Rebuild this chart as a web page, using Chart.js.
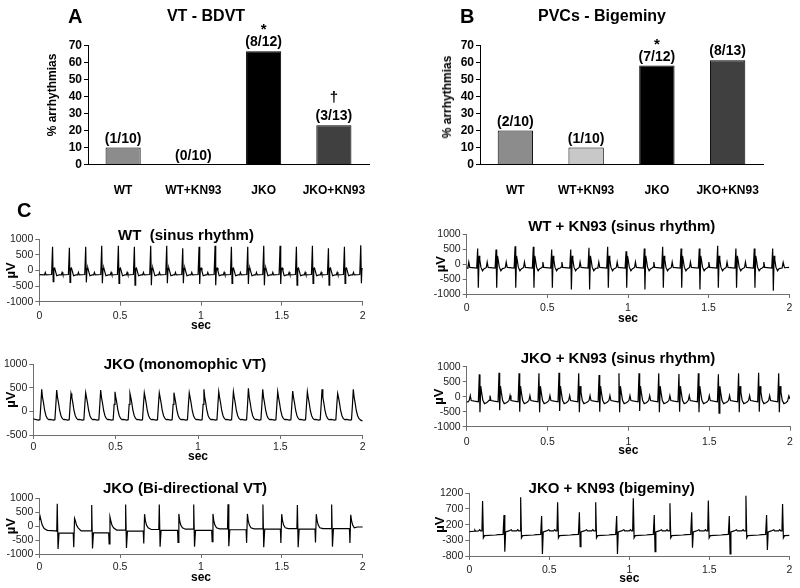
<!DOCTYPE html>
<html>
<head>
<meta charset="utf-8">
<script src="https://cdn.jsdelivr.net/npm/chart.js@4.4.0/dist/chart.umd.min.js"></script>
<style>
body { margin: 0; background: #fff; }
#wrap { position: relative; width: 800px; height: 588px; overflow: hidden; font-family: "Liberation Sans", Arial, sans-serif; }
#wrap canvas { position: absolute; left: 0; top: 0; }
.txt { position: absolute; white-space: pre; font-weight: bold; line-height: 1; color: #000; transform: translateX(-50%); }
</style>
</head>
<body>
<div id="wrap"></div>
<script>
// bar panels
const groups = ['WT', 'WT+KN93', 'JKO', 'JKO+KN93'];
const pctTicks = [0, 10, 20, 30, 40, 50, 60, 70];
const vtPct = [10, 0, 66.7, 23.1];
const vtCounts = ['(1/10)', '(0/10)', '(8/12)', '(3/13)'];
const vtMarks = ['', '', '*', '\u2020'];
const pvcPct = [20, 10, 58.3, 61.5];
const pvcCounts = ['(2/10)', '(1/10)', '(7/12)', '(8/13)'];
const pvcMarks = ['', '', '*', ''];
const barColors = ['#8c8c8c', '#c8c8c8', '#000000', '#404040'];

// ECG axes
const secTicks = [0, 0.5, 1, 1.5, 2];
const uvTicks = [-1000, -500, 0, 500, 1000];
const uvTicksMono = [-500, 0, 500, 1000];
const uvTicksBig = [-800, -300, 200, 700, 1200];

// WT sinus rhythm: R peak times (s), R and S amplitudes (µV), one complex shape
const wtBeatT = [0.082, 0.186, 0.287, 0.386, 0.489, 0.588, 0.689, 0.788, 0.887, 0.988, 1.087, 1.188, 1.289, 1.388, 1.489, 1.590, 1.689, 1.788, 1.887, 1.988];
const wtR = [760, 730, 760, 790, 790, 760, 790, 790, 710, 760, 790, 760, 760, 790, 790, 760, 790, 710, 760, 810];
const wtS = [-360, -380, -380, -410, -410, -470, -470, -410, -410, -430, -470, -410, -430, -470, -430, -470, -410, -470, -410, -410];
const wtShape = [[-0.05, -140], [-0.045, -60], [-0.04, -140], [-0.006, -130], [0, 'R'], [0.004, 'S'], [0.008, 60], [0.013, 80], [0.018, -20], [0.026, -170], [0.04, -140]];
const wtLead = [[0, -130]];

// JKO monomorphic VT
const monoT = [0.051, 0.142, 0.229, 0.318, 0.409, 0.496, 0.587, 0.674, 0.765, 0.854, 0.947, 1.036, 1.126, 1.215, 1.306, 1.393, 1.484, 1.575, 1.664, 1.753, 1.848, 1.943];
const monoPeak = [468, 454, 383, 397, 454, 418, 383, 397, 397, 397, 397, 468, 418, 418, 489, 468, 418, 432, 418, 468, 383, 468];
const monoShape = [[-0.04, -170], [-0.02, -185], [-0.011, -175], [-0.005, 150], [0, 'P'], [0.005, 300], [0.011, 180], [0.018, 20], [0.026, -90], [0.034, -150], [0.042, -175]];
const monoLead = [[0, -150], [0.005, -160]];
const monoTail = [[1.99, -190], [2, -200]];

// JKO bi-directional VT: tall (up-down) and short (down-up) complexes
const biTallT = [0.111, 0.324, 0.534, 0.742, 0.955, 1.167, 1.383, 1.596, 1.808];
const biTallR = [800, 760, 780, 780, 780, 790, 780, 760, 780];
const biTallS = [-820, -800, -780, -740, -740, -720, -760, -760, -740];
const biLevel = [-250, -240, -180, -150, -150, -130, -110, -110, -90];
const biBefore = [-180, -170, -140, -120, -110, -100, -100, -90, -90];
const biTallShape = [[-0.003, 'B'], [0, 'R'], [0.005, 'S'], [0.011, 'L'], [0.095, 'L']];
const biShortT = [0.214, 0.433, 0.647, 0.859, 1.070, 1.283, 1.495, 1.709, 1.922];
const biShortD = [-760, -640, -620, -580, -560, -600, -600, -590, -600];
const biShortU = [280, 330, 430, 440, 440, 440, 430, 430, 410];
const biShortE = [-170, -140, -120, -110, -100, -100, -90, -90, -30];
const biShortShape = [[-0.004, 'L'], [-0.001, 'D'], [0.004, 'U'], [0.009, 200], [0.016, 40], [0.026, -60], [0.045, 'E'], [0.08, 'E']];
const biLead = [[0, 220], [0.005, 350], [0.011, 200], [0.018, 40], [0.03, -90], [0.05, -150], [0.1, -170]];

// WT + KN93 sinus rhythm
const wkBeatT = [0.068, 0.182, 0.300, 0.413, 0.527, 0.645, 0.758, 0.874, 0.988, 1.101, 1.215, 1.329, 1.442, 1.556, 1.669, 1.783, 1.897];
const wkR = [525, 490, 600, 580, 490, 490, 550, 580, 435, 525, 580, 525, 525, 615, 525, 525, 525];
const wkS = [-790, -790, -790, -790, -790, -850, -850, -790, -790, -850, -790, -790, -850, -790, -790, -790, -890];
const wkShape = [[-0.065, -130], [-0.06, -100], [-0.055, 70], [-0.049, -110], [-0.006, -130], [0, 'R'], [0.004, 'S'], [0.009, 280], [0.013, 150], [0.02, -100], [0.03, -220], [0.04, -150]];
const wkLead = [[0, -130]];
const wkTail = [[1.955, -130], [1.962, 60], [1.97, -120], [2, -110]];

// JKO + KN93 sinus rhythm
const jkBeatT = [0.078, 0.200, 0.324, 0.447, 0.571, 0.693, 0.819, 0.942, 1.066, 1.188, 1.313, 1.433, 1.557, 1.682, 1.806, 1.930];
const jkR = [744, 800, 778, 778, 800, 778, 722, 778, 778, 778, 756, 778, 744, 778, 800, 778];
const jkS = [-520, -450, -500, -520, -480, -520, -500, -520, -480, -520, -500, -520, -550, -520, -500, -520];
const jkShape = [[-0.07, -170], [-0.062, -120], [-0.056, 40], [-0.05, -130], [-0.03, -150], [-0.006, -170], [0, 'R'], [0.004, 'S'], [0.009, 350], [0.014, 150], [0.022, -120], [0.032, -230], [0.045, -200]];
const jkLead = [[0, -170]];
const jkTail = [[1.985, -150], [1.993, 30], [2, -80]];

// JKO + KN93 bigeminy: narrow beats and biphasic PVCs
const bigNT = [0.083, 0.321, 0.552, 0.790, 1.025, 1.254, 1.494, 1.729, 1.958];
const bigNR = [955, 1072, 913, 913, 1040, 881, 966, 1125, 860];
const bigNShape = [[-0.025, 0], [-0.018, 40], [-0.012, 0], [-0.004, 0], [0, 'R'], [0.005, -220], [0.012, -150], [0.08, -130], [0.1, -120]];
const bigVT = [0.217, 0.452, 0.688, 0.921, 1.156, 1.390, 1.625, 1.858];
const bigVU = [508, 476, 594, 476, 508, 594, 476, 508];
const bigVD = [-662, -736, -502, -736, -662, -534, -736, -609];
const bigVShape = [[-0.006, -110], [0, 'U'], [0.005, 'D'], [0.01, -30], [0.03, 0], [0.045, 40], [0.05, 0], [0.06, 0]];
const bigLead = [[0, -20], [0.03, -10], [0.035, 30], [0.04, -10]];

Chart.defaults.font.family = '"Liberation Sans", Arial, sans-serif';
const wrap = document.getElementById('wrap');
const axisGray = '#6e6e6e';

function pts(list) {
  return list.map(([x, y]) => ({x, y}));
}

function beats(times, shape, vals) {
  const out = [];
  times.forEach((t, i) => {
    shape.forEach(([dt, v]) => {
      out.push({x: +(t + dt).toFixed(4), y: typeof v === 'string' ? vals[v][i] : v});
    });
  });
  return out;
}

function sorted(arr) {
  return arr.sort((a, b) => a.x - b.x);
}

function newCanvas() {
  const cv = document.createElement('canvas');
  cv.width = 800;
  cv.height = 588;
  wrap.appendChild(cv);
  return cv;
}

const barNotes = {
  id: 'barNotes',
  afterDatasetsDraw(chart, args, opts) {
    const ctx = chart.ctx;
    ctx.save();
    ctx.fillStyle = '#000';
    ctx.textAlign = 'center';
    ctx.textBaseline = 'alphabetic';
    chart.getDatasetMeta(0).data.forEach((bar, i) => {
      ctx.font = 'bold 14px "Liberation Sans", Arial, sans-serif';
      ctx.fillText(opts.counts[i], bar.x, bar.y - 5);
      if (opts.marks[i]) {
        ctx.font = 'bold 15px "Liberation Sans", Arial, sans-serif';
        ctx.fillText(opts.marks[i], bar.x, bar.y - 5 - (opts.marks[i] === '*' ? 12 : 18));
      }
    });
    ctx.restore();
  }
};

function barChart(p) {
  const xH = 30;
  new Chart(newCanvas(), {
    type: 'bar',
    data: {
      labels: groups,
      datasets: [{
        data: p.values,
        backgroundColor: barColors,
        borderColor: '#000',
        borderWidth: 1,
        barPercentage: 0.5,
        categoryPercentage: 1
      }]
    },
    options: {
      responsive: false,
      animation: false,
      events: [],
      layout: {padding: {left: p.L - p.yW, top: p.T, right: 800 - p.R, bottom: 588 - p.B - xH}},
      plugins: {
        legend: {display: false},
        tooltip: {enabled: false},
        barNotes: {counts: p.counts, marks: p.marks}
      },
      scales: {
        x: {
          grid: {display: false},
          border: {color: '#000'},
          ticks: {padding: 11, color: '#000', font: {size: 12, weight: 'bold'}, maxRotation: 0, autoSkip: false},
          afterFit: s => { s.height = xH; }
        },
        y: {
          min: 0,
          max: 70,
          afterBuildTicks: s => { s.ticks = pctTicks.map(v => ({value: v})); },
          grid: {drawOnChartArea: false, tickLength: 4, color: '#000'},
          border: {color: '#000'},
          ticks: {padding: 2, color: '#000', font: {size: 12, weight: 'bold'}, autoSkip: false},
          afterFit: s => { s.width = p.yW; }
        }
      }
    },
    plugins: [barNotes]
  });
}

function traceChart(p) {
  const yW = p.L - p.muX + 7.8;
  const xH = p.secY + 7.2 - p.B;
  new Chart(newCanvas(), {
    type: 'line',
    data: {
      datasets: [{data: p.data, borderColor: '#000', borderWidth: 1.2, pointRadius: 0, tension: 0}]
    },
    options: {
      responsive: false,
      animation: false,
      events: [],
      layout: {padding: {left: p.L - yW, top: p.T, right: 800 - p.R, bottom: 588 - p.B - xH}},
      plugins: {legend: {display: false}, tooltip: {enabled: false}},
      scales: {
        x: {
          type: 'linear',
          min: 0,
          max: 2,
          afterBuildTicks: s => { s.ticks = secTicks.map(v => ({value: v})); },
          grid: {drawOnChartArea: false, tickLength: 4, color: axisGray},
          border: {color: axisGray},
          ticks: {padding: p.xPad, color: '#222', font: {size: 10.5}, maxRotation: 0, autoSkip: false, callback: v => String(v)},
          title: {display: true, text: 'sec', color: '#000', font: {size: 12, weight: 'bold'}, padding: 0},
          afterFit: s => { s.height = xH; }
        },
        y: {
          min: p.yTicks[0],
          max: p.yTicks[p.yTicks.length - 1],
          afterBuildTicks: s => { s.ticks = p.yTicks.map(v => ({value: v})); },
          grid: {drawOnChartArea: false, tickLength: 4, color: axisGray},
          border: {color: axisGray},
          ticks: {padding: 2, color: '#222', font: {size: 10.5}, autoSkip: false, callback: v => String(v)},
          title: {display: true, text: '\u00b5V', color: '#000', font: {size: 13, weight: 'bold'}, padding: 0},
          afterFit: s => { s.width = yW; }
        }
      }
    }
  });
}

// A and B
barChart({values: vtPct, counts: vtCounts, marks: vtMarks, L: 88, R: 369, T: 45.7, B: 164.5, yW: 88});
barChart({values: pvcPct, counts: pvcCounts, marks: pvcMarks, L: 480, R: 763, T: 45.7, B: 164.5, yW: 60});

// C, left column
traceChart({
  data: sorted([...pts(wtLead), ...beats(wtBeatT, wtShape, {R: wtR, S: wtS})]),
  yTicks: uvTicks, L: 39.3, R: 362.7, T: 239.3, B: 301.7, xPad: 4, secY: 326, muX: 11
});
traceChart({
  data: sorted([...pts(monoLead), ...beats(monoT, monoShape, {P: monoPeak}), ...pts(monoTail)]),
  yTicks: uvTicksMono, L: 33.3, R: 362.7, T: 364.3, B: 435, xPad: 2, secY: 457, muX: 11.7
});
traceChart({
  data: sorted([
    ...pts(biLead),
    ...beats(biTallT, biTallShape, {B: biBefore, R: biTallR, S: biTallS, L: biLevel}),
    ...beats(biShortT, biShortShape, {L: biLevel, D: biShortD, U: biShortU, E: biShortE})
  ]),
  yTicks: uvTicks, L: 39.3, R: 362.7, T: 498.3, B: 554, xPad: 3, secY: 577.7, muX: 11
});

// C, right column
traceChart({
  data: sorted([...pts(wkLead), ...beats(wkBeatT, wkShape, {R: wkR, S: wkS}), ...pts(wkTail)]),
  yTicks: uvTicks, L: 466.7, R: 789.3, T: 234.3, B: 294, xPad: 4, secY: 318.3, muX: 441.7
});
traceChart({
  data: sorted([...pts(jkLead), ...beats(jkBeatT, jkShape, {R: jkR, S: jkS}), ...pts(jkTail)]),
  yTicks: uvTicks, L: 466.7, R: 790, T: 366.7, B: 426.7, xPad: 5, secY: 451, muX: 439.5
});
traceChart({
  data: sorted([
    ...pts(bigLead),
    ...beats(bigNT, bigNShape, {R: bigNR}),
    ...beats(bigVT, bigVShape, {U: bigVU, D: bigVD})
  ]),
  yTicks: uvTicksBig, L: 469.3, R: 789.3, T: 493.3, B: 556, xPad: 4, secY: 578.3, muX: 440
});

// text overlays
function addText(str, x, cy, size, mode) {
  const d = document.createElement('div');
  d.className = 'txt';
  d.textContent = str;
  d.style.fontSize = size + 'px';
  d.style.left = x + 'px';
  d.style.top = (cy - 0.4885 * size) + 'px';
  if (mode === 'left') d.style.transform = 'none';
  if (mode === 'rot') {
    d.style.top = cy + 'px';
    d.style.transform = 'translate(-50%, -50%) rotate(-90deg)';
  }
  wrap.appendChild(d);
}

addText('A', 68, 16, 20, 'left');
addText('VT - BDVT', 206, 16, 16);
addText('B', 460, 16, 20, 'left');
addText('PVCs - Bigeminy', 602, 16, 16);
addText('% arrhythmias', 52, 95, 12, 'rot');
addText('% arrhythmias', 447, 97, 12, 'rot');
addText('C', 17, 210, 20, 'left');
addText('WT  (sinus rhythm)', 186, 234, 15);
addText('JKO (monomophic VT)', 185, 363, 15);
addText('JKO (Bi-directional VT)', 185, 487, 15);
addText('WT + KN93 (sinus rhythm)', 621.7, 225.3, 15);
addText('JKO + KN93 (sinus rhythm)', 618, 357, 15);
addText('JKO + KN93 (bigeminy)', 611.7, 487, 15);
</script>
</body>
</html>
